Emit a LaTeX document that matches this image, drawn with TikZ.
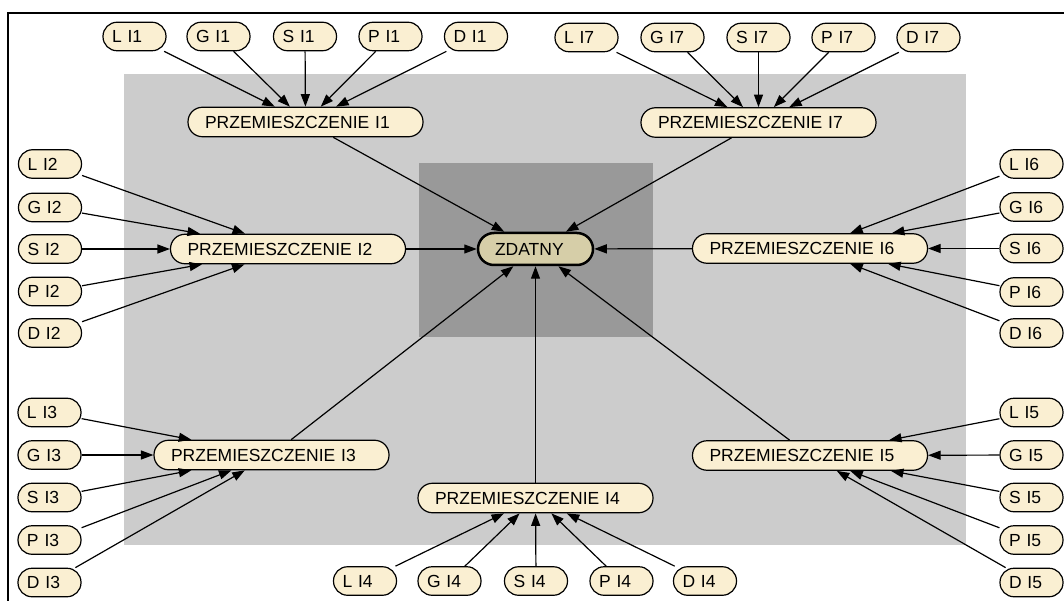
\documentclass[tikz,border=0pt]{standalone}
\usepackage{fontspec}
\setmainfont{Liberation Sans}
\usetikzlibrary{arrows.meta}
\definecolor{leaf}{RGB}{250,239,210}
\definecolor{goal}{RGB}{214,206,168}
\definecolor{zoneA}{RGB}{204,204,204}
\definecolor{zoneB}{RGB}{153,153,153}
\tikzset{
  x=1pt, y=-1pt,
  base/.style={draw, fill=leaf, line width=1.2pt, align=left,
    text height=12.5pt, text depth=0pt,
    font=\fontsize{17.5}{19}\selectfont},
  leafbox/.style={base, rounded corners=14pt, minimum height=28.5pt,
    inner xsep=9pt, text width=45pt},
  movebox/.style={base, rounded corners=14.5pt, minimum height=29.5pt,
    inner xsep=17pt, text width=201pt},
  goalbox/.style={base, fill=goal, line width=2.5pt, rounded corners=16pt,
    minimum height=32pt, inner xsep=17pt, text width=81pt},
  arr/.style={draw, line width=1.2pt, -{Triangle[length=12.5pt,width=9pt]}},
}
\begin{document}
\begin{tikzpicture}
\useasboundingbox (0,0) rectangle (1064,601);
\clip (0,0) rectangle (1064,601);
% frame and shaded zones
\draw[line width=2pt] (8,13) rectangle (1080,620);
\fill[zoneA] (124,74) rectangle (966,545);
\fill[zoneB] (419,163) rectangle (653,337);

% central node and the seven displacement nodes
\node[goalbox] (zd) at (535.5,249) {ZDATNY};
\node[movebox] (p1) at (305.5,122) {PRZEMIESZCZENIE I1};
\node[movebox] (p7) at (758.5,122.5) {PRZEMIESZCZENIE I7};
\node[movebox] (p2) at (288,249) {PRZEMIESZCZENIE I2};
\node[movebox] (p6) at (810,248.5) {PRZEMIESZCZENIE I6};
\node[movebox] (p3) at (271.5,455) {PRZEMIESZCZENIE I3};
\node[movebox] (p5) at (810,455.5) {PRZEMIESZCZENIE I5};
\node[movebox] (p4) at (535.5,498) {PRZEMIESZCZENIE I4};

% group I1 (top left)
\node[leafbox] (l1) at (134.5,36.5) {L I1};
\node[leafbox] (g1) at (218.5,36.5) {G I1};
\node[leafbox] (s1) at (305,36.5) {S I1};
\node[leafbox] (q1) at (390.5,36.5) {P I1};
\node[leafbox] (d1) at (476,36.5) {D I1};
% group I7 (top right)
\node[leafbox] (l7) at (586.5,37.5) {L I7};
\node[leafbox] (g7) at (672.5,37.5) {G I7};
\node[leafbox] (s7) at (758.5,37.5) {S I7};
\node[leafbox] (q7) at (843.5,37.5) {P I7};
\node[leafbox] (d7) at (928.5,37.5) {D I7};
% group I2 (left)
\node[leafbox] (l2) at (50,164) {L I2};
\node[leafbox] (g2) at (50,207.5) {G I2};
\node[leafbox] (s2) at (50,249) {S I2};
\node[leafbox] (q2) at (50,291.5) {P I2};
\node[leafbox] (d2) at (50,333) {D I2};
% group I6 (right)
\node[leafbox] (l6) at (1031.5,164) {L I6};
\node[leafbox] (g6) at (1031.5,207) {G I6};
\node[leafbox] (s6) at (1031.5,248.5) {S I6};
\node[leafbox] (q6) at (1031.5,292) {P I6};
\node[leafbox] (d6) at (1031.5,333) {D I6};
% group I3 (lower left)
\node[leafbox] (l3) at (49.5,412.5) {L I3};
\node[leafbox] (g3) at (49.5,455) {G I3};
\node[leafbox] (s3) at (49.5,497.5) {S I3};
\node[leafbox] (q3) at (49.5,540) {P I3};
\node[leafbox] (d3) at (49.5,582.5) {D I3};
% group I5 (lower right)
\node[leafbox] (l5) at (1031.5,412.5) {L I5};
\node[leafbox] (g5) at (1031.5,455) {G I5};
\node[leafbox] (s5) at (1031.5,497.5) {S I5};
\node[leafbox] (q5) at (1031.5,540) {P I5};
\node[leafbox] (d5) at (1031.5,582.5) {D I5};
% group I4 (bottom)
\node[leafbox] (l4) at (365,581) {L I4};
\node[leafbox] (g4) at (449.5,581) {G I4};
\node[leafbox] (s4) at (536,581) {S I4};
\node[leafbox] (q4) at (621.5,581) {P I4};
\node[leafbox] (d4) at (705,581) {D I4};

% inputs into each displacement node, then into the central node
\foreach \k in {1,...,7}{
  \foreach \s in {l,g,s,q,d}{
    \draw[arr] (\s\k) -- (p\k);
  }
  \draw[arr] (p\k) -- (zd);
}
\end{tikzpicture}
\end{document}
